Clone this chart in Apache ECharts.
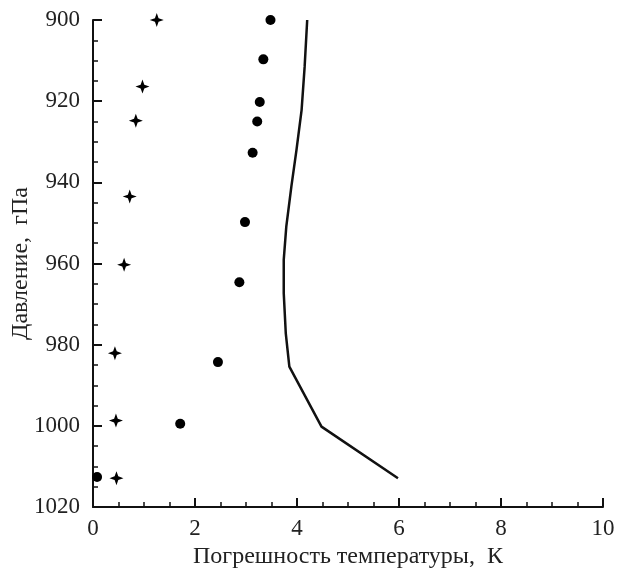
<!DOCTYPE html>
<html><head><meta charset="utf-8">
<script src="https://cdn.jsdelivr.net/npm/echarts@6/dist/echarts.min.js"></script>
<style>html,body{margin:0;padding:0;background:#fff}#c{width:622px;height:572px}</style>
</head><body><div id="c"></div>
<script>
const xTicks = [0, 2, 4, 6, 8, 10];
const yTicks = [900, 920, 940, 960, 980, 1000, 1020];
const crossX = [1.25, 0.97, 0.84, 0.72, 0.61, 0.43, 0.45, 0.46];
const crossY = [900, 916.4, 924.8, 943.5, 960.3, 982.1, 998.7, 1012.9];
const dotX = [3.48, 3.34, 3.27, 3.22, 3.13, 2.98, 2.87, 2.45, 1.71, 0.08];
const dotY = [900, 909.7, 920.2, 925, 932.7, 949.8, 964.6, 984.3, 999.5, 1012.6];
const lineX = [4.20, 4.15, 4.09, 3.99, 3.89, 3.79, 3.74, 3.74, 3.78, 3.85, 4.48, 5.98];
const lineY = [900, 911.5, 922.2, 932, 941, 950.9, 959.1, 967.3, 977.2, 985.4, 1000.2, 1012.9];

const pair = (xs, ys) => xs.map((x, i) => [x, ys[i]]);
const font = 'Liberation Serif';
const chart = echarts.init(document.getElementById('c'));
chart.setOption({
  animation: false,
  textStyle: { fontFamily: font },
  grid: { left: 93, right: 19, top: 20, bottom: 65, containLabel: false, outerBoundsMode: 'none' },
  xAxis: {
    type: 'value', min: xTicks[0], max: xTicks[xTicks.length - 1], interval: 2,
    name: 'Погрешность температуры,  К', nameLocation: 'middle', nameGap: 37,
    nameTextStyle: { fontFamily: font, fontSize: 24, color: '#222' },
    axisLine: { show: true, onZero: false, lineStyle: { color: '#111', width: 2 } },
    axisTick: { show: true, inside: true, length: 9, lineStyle: { color: '#111', width: 2 } },
    minorTick: { show: true, splitNumber: 4, length: 5, lineStyle: { color: '#111', width: 1.5 } },
    axisLabel: { fontFamily: font, fontSize: 23, color: '#222', margin: 10, formatter: v => String(v) },
    splitLine: { show: false }
  },
  yAxis: {
    type: 'value', min: yTicks[0], max: yTicks[yTicks.length - 1], interval: 20, inverse: true,
    name: 'Давление,  гПа', nameLocation: 'middle', nameGap: 60, nameRotate: 90, nameMoveOverlap: false,
    nameTextStyle: { fontFamily: font, fontSize: 24, color: '#222' },
    axisLine: { show: true, onZero: false, lineStyle: { color: '#111', width: 2 } },
    axisTick: { show: true, inside: true, length: 9, lineStyle: { color: '#111', width: 2 } },
    minorTick: { show: true, splitNumber: 4, length: 5, lineStyle: { color: '#111', width: 1.5 } },
    axisLabel: { fontFamily: font, fontSize: 23, color: '#222', margin: 13, formatter: v => String(v) },
    splitLine: { show: false }
  },
  series: [
    { type: 'line', data: pair(lineX, lineY), showSymbol: false, symbol: 'none',
      lineStyle: { color: '#111', width: 2.5 }, smooth: false },
    { type: 'scatter', data: pair(dotX, dotY), symbol: 'circle', symbolSize: 10,
      itemStyle: { color: '#000', opacity: 1 } },
    { type: 'scatter', data: pair(crossX, crossY),
      symbol: 'path://M0,-10 L2.6,-2.6 L10,0 L2.6,2.6 L0,10 L-2.6,2.6 L-10,0 L-2.6,-2.6 Z',
      symbolSize: 14, itemStyle: { color: '#000', opacity: 1 } }
  ]
});
</script></body></html>
